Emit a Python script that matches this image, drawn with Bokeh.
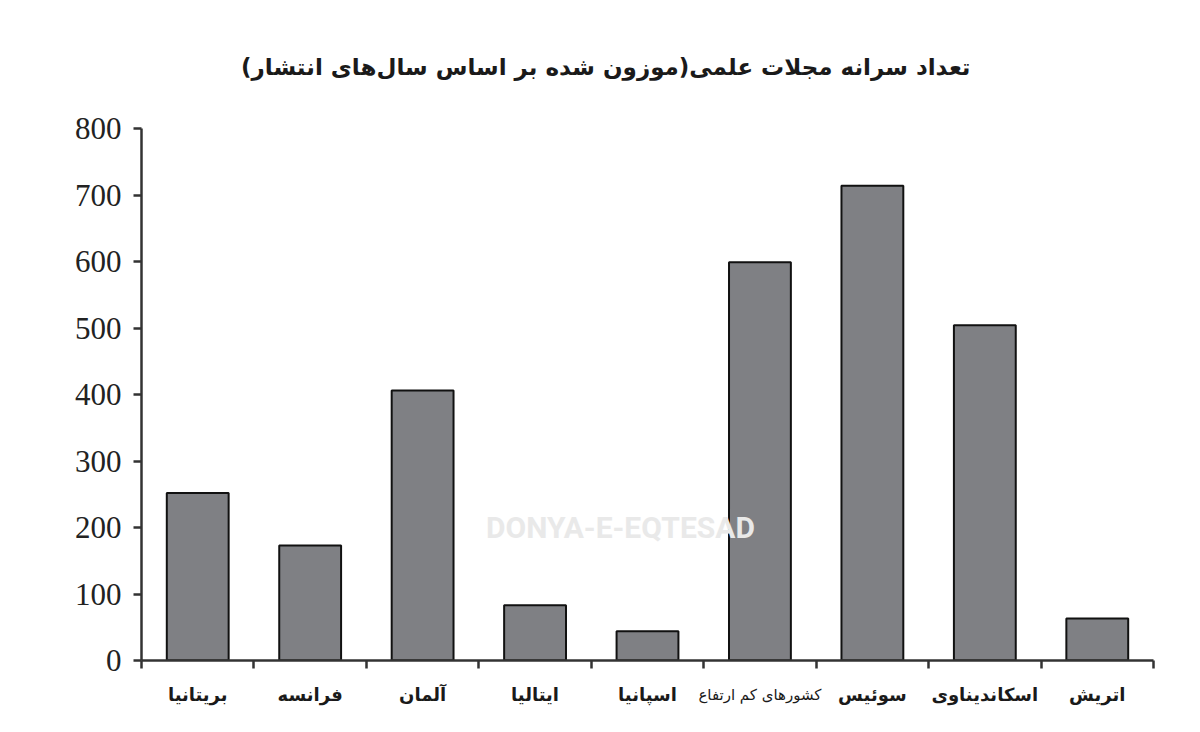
from bokeh.plotting import figure
from bokeh.models import Range1d, FixedTicker, ColumnDataSource, Label, Title, LinearAxis
from bokeh.embed import file_html
from bokeh.resources import INLINE

# ---- data ----
categories = ["بریتانیا", "فرانسه", "آلمان", "ایتالیا", "اسپانیا",
              "کشورهای کم ارتفاع", "سوئیس", "اسکاندیناوی", "اتریش"]
values = [252, 173, 406, 83, 44, 599, 714, 504, 63]
y_ticks = [0, 100, 200, 300, 400, 500, 600, 700, 800]
title_text = "تعداد سرانه مجلات علمی(موزون شده بر اساس سال‌های انتشار)\u200f"
watermark_text = "DONYA-E-EQTESAD"

n = len(categories)
x_pos = [i + 0.5 for i in range(n)]
is_long = [len(c) > 12 for c in categories]

src = ColumnDataSource(dict(x=x_pos, top=values))

p = figure(width=1192, height=724, x_range=Range1d(0, n), y_range=Range1d(0, 800),
           output_backend="svg", toolbar_location=None,
           min_border_left=141, min_border_right=39,
           min_border_top=128, min_border_bottom=64)
p.background_fill_color = "white"
p.border_fill_color = "white"
p.outline_line_color = None
p.xgrid.visible = False
p.ygrid.visible = False

ttl = Title(text=title_text, align="right", offset=183, standoff=98,
            text_font="DejaVu Sans", text_font_size="23px", text_font_style="bold",
            text_color="#1a1a1a")
p.add_layout(ttl, "above")

p.vbar(x="x", top="top", width=0.55, source=src,
       fill_color="#7f8084", line_color="#111111", line_width=2)

# x axis: ticks at category boundaries, labels at category centres
p.xaxis.ticker = FixedTicker(ticks=x_pos, minor_ticks=list(range(n + 1)))
p.xaxis.major_label_overrides = {x: ("" if lg else c) for x, c, lg in zip(x_pos, categories, is_long)}
p.xaxis.major_label_text_font = "DejaVu Sans"
p.xaxis.major_label_text_font_size = "18px"
p.xaxis.major_label_text_font_style = "bold"
p.xaxis.major_label_text_color = "#1a1a1a"
p.xaxis.major_label_standoff = 15
p.xaxis.major_tick_out = 0
p.xaxis.major_tick_in = 0
p.xaxis.minor_tick_out = 8
p.xaxis.minor_tick_in = 0
p.xaxis.minor_tick_line_width = 2.5
p.xaxis.minor_tick_line_color = "#333333"
p.xaxis.axis_line_width = 2.5
p.xaxis.axis_line_color = "#333333"

# second (label-only) axis for the long, smaller category name
ax2 = LinearAxis(ticker=FixedTicker(ticks=x_pos, minor_ticks=[]),
                 major_label_overrides={x: (c if lg else "") for x, c, lg in zip(x_pos, categories, is_long)},
                 axis_line_color=None, major_tick_line_color=None, minor_tick_line_color=None,
                 major_tick_out=0, major_tick_in=0, minor_tick_out=0, minor_tick_in=0,
                 major_label_standoff=-22,
                 major_label_text_font="DejaVu Sans", major_label_text_font_size="15px",
                 major_label_text_color="#1a1a1a")
p.add_layout(ax2, "below")

# y axis
p.yaxis.ticker = FixedTicker(ticks=y_ticks)
p.yaxis.minor_tick_out = 0
p.yaxis.minor_tick_in = 0
p.yaxis.major_tick_out = 8
p.yaxis.major_tick_in = 0
p.yaxis.major_tick_line_width = 2.5
p.yaxis.major_tick_line_color = "#333333"
p.yaxis.axis_line_width = 2.5
p.yaxis.axis_line_color = "#333333"
p.yaxis.major_label_standoff = 12
p.yaxis.major_label_text_font = "Liberation Serif"
p.yaxis.major_label_text_font_size = "31px"
p.yaxis.major_label_text_color = "#222222"

# watermark
wm = Label(x=4.26, y=200, text=watermark_text, text_align="center", text_baseline="middle",
           text_font="Roboto", text_font_size="30px", text_font_style="bold",
           text_color="#e9e9e9")
p.add_layout(wm)

open("out.html", "w").write(file_html(p, INLINE))
